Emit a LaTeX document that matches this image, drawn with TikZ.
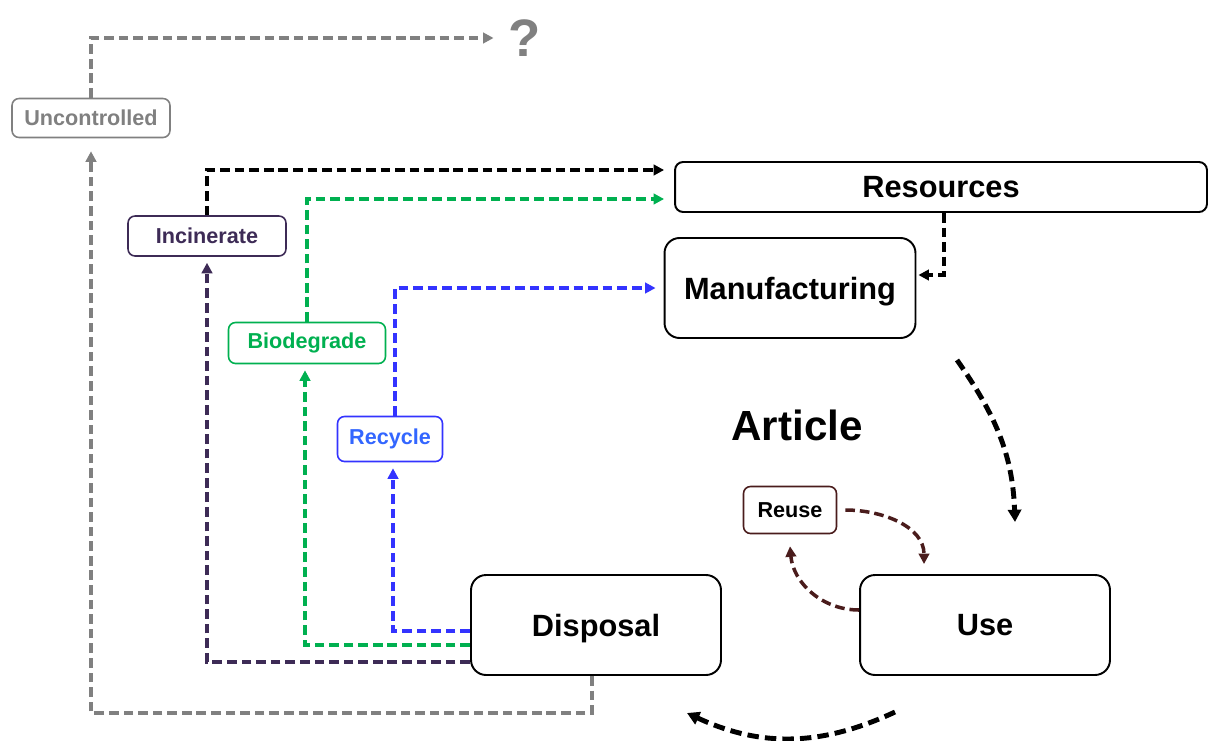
\documentclass[tikz,border=0pt]{standalone}
\usepackage{fontspec}
\setmainfont{Liberation Sans}
\usetikzlibrary{arrows.meta}
\definecolor{uncgray}{HTML}{808080}
\definecolor{incpurple}{HTML}{3D2B56}
\definecolor{biogreen}{HTML}{00B050}
\definecolor{recblue}{HTML}{3333FF}
\definecolor{rectext}{HTML}{3366FF}
\definecolor{reusebrown}{HTML}{4A1C1C}
\begin{document}
\begin{tikzpicture}[x=0.02cm, y=-0.02cm,
    bigbox/.style={draw, line width=1.1pt, rounded corners=0.3cm, minimum width=5cm,
        minimum height=2cm, text depth=0pt, font=\fontsize{17.5}{20}\selectfont\bfseries},
    smallbox/.style={draw, line width=0.9pt, rounded corners=0.14cm, minimum height=0.8cm,
        font=\fontsize{12.3}{14}\selectfont\bfseries},
    flow/.style={line width=2pt, dash pattern=on 5.5pt off 2.8pt,
        -{Triangle[length=6pt,width=6pt]}},
    cycle/.style={line width=2.8pt, dash pattern=on 6.5pt off 3.5pt,
        -{Triangle[length=7pt,width=7.5pt]}}]
    \useasboundingbox (0,0) rectangle (1209,740);

    \node[bigbox, minimum width=10.64cm, minimum height=1cm, rounded corners=0.16cm] (res) at (941,187) {Resources};
    \node[bigbox, minimum width=5.02cm] (man) at (790,288) {Manufacturing};
    \node[bigbox] (disp) at (596,625) {Disposal};
    \node[bigbox] (use) at (985,625) {Use};
    \node[font=\fontsize{24}{28}\selectfont\bfseries] (art) at (797,425) {Article};

    \node[smallbox, uncgray, minimum width=3.16cm, minimum height=0.78cm] (unc) at (91,118) {Uncontrolled};
    \node[smallbox, incpurple, minimum width=3.16cm] (inc) at (207,236) {Incinerate};
    \node[smallbox, biogreen, minimum width=3.14cm, minimum height=0.82cm] (bio) at (307,343) {Biodegrade};
    \node[smallbox, recblue, text=rectext, minimum width=2.1cm, minimum height=0.9cm] (rec) at (390,439) {Recycle};
    \node[smallbox, reusebrown, text=black, minimum width=1.86cm, minimum height=0.94cm] (reuse) at (790,510) {Reuse};
    \node[text=uncgray, inner sep=0pt, font=\fontsize{30}{32}\selectfont\bfseries] (q) at (525,38) {?};

    \draw[flow, uncgray] (unc.north) |- ([xshift=-0.3cm]q.west);
    \draw[flow, uncgray] ([xshift=-0.08cm]disp.south) -- ++(0,37) -| ([yshift=-0.26cm]unc.south);
    \draw[flow] (inc.north) |- ([xshift=-0.2cm,yshift=0.34cm]res.west);
    \draw[flow, biogreen] (bio.north) |- ([xshift=-0.2cm,yshift=-0.24cm]res.west);
    \draw[flow, recblue] ([xshift=0.1cm]rec.north) |- ([xshift=-0.16cm]man.west);
    \draw[flow] ([xshift=0.06cm]res.south) |- ([xshift=0.04cm,yshift=0.26cm]man.east);
    \draw[flow, recblue] ([yshift=-0.12cm]disp.west) -| ([xshift=0.06cm,yshift=-0.12cm]rec.south);
    \draw[flow, biogreen] ([yshift=-0.4cm]disp.west) -| ([xshift=-0.04cm,yshift=-0.12cm]bio.south);
    \draw[flow, incpurple] ([yshift=-0.74cm]disp.west) -| ([yshift=-0.12cm]inc.south);

    \coordinate (manout) at (957,360);
    \coordinate (usein) at (1015,522);
    \coordinate (useout) at (895,712);
    \coordinate (dispin) at (687,713);
    \draw[cycle] (manout) to[out=-55, in=92] (usein);
    \draw[cycle] (useout) to[out=-155, in=-25] (dispin);

    \draw[flow, reusebrown] ([yshift=0.3cm]use.west) to[out=180, in=-85] ([yshift=-0.24cm]reuse.south);
    \draw[flow, reusebrown] ([xshift=0.16cm]reuse.east) to[out=0, in=90] ([xshift=-1.22cm,yshift=0.2cm]use.north);
\end{tikzpicture}
\end{document}
